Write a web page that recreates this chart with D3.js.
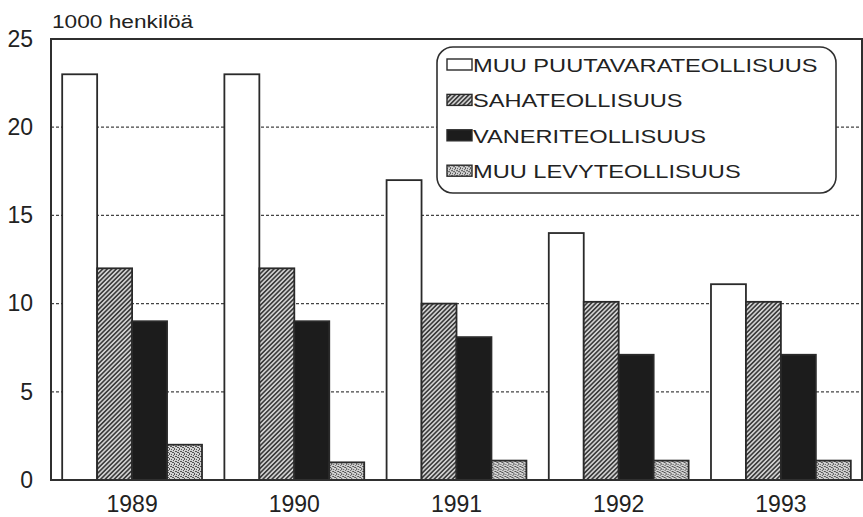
<!DOCTYPE html>
<meta charset='utf-8'>
<style>
body { margin: 0; background: #fff; }
text { font-family: 'Liberation Sans', Arial, sans-serif; fill: #222; }
</style>
<div id='chart'></div>
<script src='https://d3js.org/d3.v7.min.js'></script>
<script>
  // data (1000 persons)
  var years = ['1989', '1990', '1991', '1992', '1993'];
  var seriesNames = ['MUU PUUTAVARATEOLLISUUS', 'SAHATEOLLISUUS', 'VANERITEOLLISUUS', 'MUU LEVYTEOLLISUUS'];
  var muuPuutavara = [23, 23, 17, 14, 11.1];
  var saha = [12, 12, 10, 10.1, 10.1];
  var vaneri = [9, 9, 8.1, 7.1, 7.1];
  var muuLevy = [2, 1, 1.1, 1.1, 1.1];
  var yTicks = [0, 5, 10, 15, 20, 25];
  var gridTicks = [5, 10, 15, 20];

  var seriesValues = [muuPuutavara, saha, vaneri, muuLevy];
  var fills = ['#fff', 'url(#hatch)', '#1c1c1c', 'url(#speckle)'];

  var W = 863, H = 517;
  var margin = {top: 39, right: 1, bottom: 37, left: 51},
      width = W - margin.left - margin.right,
      height = H - margin.top - margin.bottom;

  var svgRoot = d3.select('#chart').append('svg')
      .attr('width', W)
      .attr('height', H);

  // fill patterns
  var defs = svgRoot.append('defs');
  var hatch = defs.append('pattern')
      .attr('id', 'hatch')
      .attr('patternUnits', 'userSpaceOnUse')
      .attr('width', 3.2).attr('height', 10)
      .attr('patternTransform', 'rotate(45)');
  hatch.append('rect').attr('width', 3.2).attr('height', 10).attr('fill', '#d0d0d0');
  hatch.append('line').attr('x1', 0.8).attr('x2', 0.8).attr('y1', 0).attr('y2', 10)
      .attr('stroke', '#333').attr('stroke-width', 1.5);

  var speckle = defs.append('pattern')
      .attr('id', 'speckle')
      .attr('patternUnits', 'userSpaceOnUse')
      .attr('width', 5).attr('height', 5);
  speckle.append('rect').attr('width', 5).attr('height', 5).attr('fill', '#d2d2d2');
  [[0, 0], [2, 1], [4, 2], [1, 3], [3, 4], [3, 0], [0, 2], [2, 3]].forEach(function(p) {
    speckle.append('rect').attr('x', p[0]).attr('y', p[1]).attr('width', 1).attr('height', 1)
      .attr('fill', '#555');
  });

  var svg = svgRoot.append('g')
      .attr('transform', 'translate(' + margin.left + ',' + margin.top + ')');

  var x0 = d3.scaleBand().domain(years).range([0, width]).paddingInner(0).paddingOuter(0);
  var x1 = d3.scaleBand().domain(d3.range(seriesNames.length)).range([0, x0.bandwidth()])
      .paddingInner(0).paddingOuter(0.32);
  var y = d3.scaleLinear().domain([0, 25]).range([height, 0]);

  // grid
  svg.append('g').selectAll('line')
    .data(gridTicks)
    .enter().append('line')
      .attr('x1', 0).attr('x2', width)
      .attr('y1', function(d) { return y(d); })
      .attr('y2', function(d) { return y(d); })
      .attr('stroke', '#444')
      .attr('stroke-width', 1.2)
      .attr('stroke-dasharray', '3,2');

  // bars
  var groups = svg.append('g').selectAll('g')
    .data(years)
    .enter().append('g')
      .attr('transform', function(d) { return 'translate(' + x0(d) + ',0)'; });

  groups.selectAll('rect')
    .data(function(d, i) { return seriesValues.map(function(s, j) { return {s: j, v: s[i]}; }); })
    .enter().append('rect')
      .attr('x', function(d) { return x1(d.s); })
      .attr('width', x1.bandwidth())
      .attr('y', function(d) { return y(d.v); })
      .attr('height', function(d) { return height - y(d.v); })
      .attr('fill', function(d) { return fills[d.s]; })
      .attr('stroke', '#2a2a2a')
      .attr('stroke-width', 1.8);

  // frame
  svg.append('rect')
      .attr('width', width).attr('height', height)
      .attr('fill', 'none')
      .attr('stroke', '#2f2f2f')
      .attr('stroke-width', 2);

  // axes
  var yAxis = svg.append('g')
      .call(d3.axisLeft(y).tickValues(yTicks).tickSize(0).tickPadding(18));
  yAxis.select('.domain').remove();
  yAxis.selectAll('text').style('font-size', '23px').attr('fill', '#222');

  var xAxis = svg.append('g')
      .attr('transform', 'translate(0,' + height + ')')
      .call(d3.axisBottom(x0).tickSize(0).tickPadding(16));
  xAxis.select('.domain').remove();
  xAxis.selectAll('text').style('font-size', '23px').attr('fill', '#222');

  // unit label
  svgRoot.append('text')
      .attr('transform', 'translate(52,28) scale(1.22,1)')
      .style('font-size', '18.6px')
      .text('1000 henkilöä');

  // legend
  var legend = svgRoot.append('g').attr('transform', 'translate(437,47)');
  legend.append('rect')
      .attr('width', 399).attr('height', 146)
      .attr('rx', 16).attr('ry', 16)
      .attr('fill', '#fff')
      .attr('stroke', '#2f2f2f')
      .attr('stroke-width', 1.6);

  var item = legend.selectAll('.item')
    .data(seriesNames)
    .enter().append('g')
      .attr('class', 'item')
      .attr('transform', function(d, i) { return 'translate(0,' + (25 + i * 35.4) + ')'; });

  item.append('rect')
      .attr('x', 10).attr('y', -13)
      .attr('width', 25).attr('height', 11)
      .attr('fill', function(d, i) { return fills[i]; })
      .attr('stroke', '#2a2a2a')
      .attr('stroke-width', 1.4);

  item.append('text')
      .attr('transform', 'translate(36,0) scale(1.27,1)')
      .style('font-size', '18.6px')
      .text(function(d) { return d; });
</script>
